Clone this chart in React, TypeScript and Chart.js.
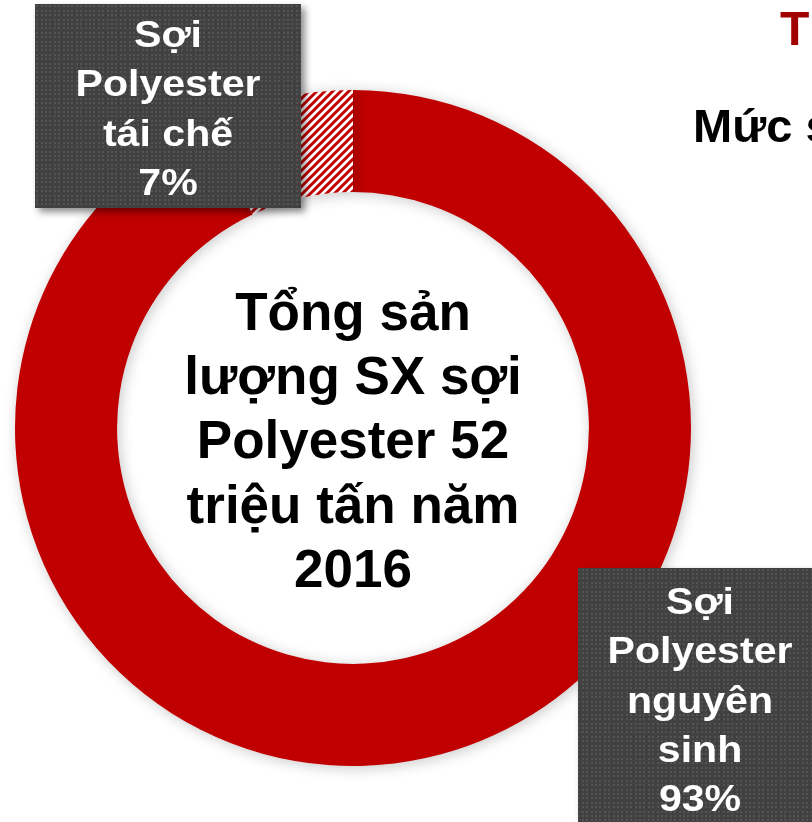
import React, { useEffect, useRef } from "react";
import { Chart, registerables } from "chart.js";

Chart.register(...registerables);

// ---- data ----
const categories = ["Sợi Polyester nguyên sinh", "Sợi Polyester tái chế"];
const shares = [93, 7];
const virginLabelLines = ["Sợi", "Polyester", "nguyên", "sinh"];
const recycledLabelLines = ["Sợi", "Polyester", "tái chế"];
const centerLines = ["Tổng sản", "lượng SX sợi", "Polyester 52", "triệu tấn năm", "2016"];
const titleText = "Thị trường sợi Polyester tái chế";
const subtitleText = "Mức sản xuất";

const RED = "#c00000";
const FONT = '"Liberation Sans", Arial, sans-serif';

function makeHatch(): CanvasPattern | string {
  const c = document.createElement("canvas");
  c.width = 8;
  c.height = 8;
  const g = c.getContext("2d");
  if (!g) return RED;
  g.fillStyle = "#ffffff";
  g.fillRect(0, 0, 8, 8);
  g.strokeStyle = RED;
  g.lineWidth = 3;
  g.beginPath();
  g.moveTo(-2, 10);
  g.lineTo(10, -2);
  g.moveTo(-2, 2);
  g.lineTo(2, -2);
  g.moveTo(6, 10);
  g.lineTo(10, 6);
  g.stroke();
  return g.createPattern(c, "repeat") || RED;
}

function makeDots(ctx: CanvasRenderingContext2D): CanvasPattern | string {
  const c = document.createElement("canvas");
  c.width = 22;
  c.height = 22;
  const g = c.getContext("2d");
  if (!g) return "#404040";
  g.fillStyle = "#414141";
  g.fillRect(0, 0, 22, 22);
  g.fillStyle = "#535353";
  const pos = [1, 5, 10, 14, 19];
  for (const x of pos) for (const y of pos) g.fillRect(x, y, 2, 2);
  return ctx.createPattern(c, "repeat") || "#404040";
}

function drawBox(
  ctx: CanvasRenderingContext2D,
  fill: CanvasPattern | string,
  x: number,
  y: number,
  w: number,
  h: number,
  lines: string[],
  cx: number,
  firstBaseline: number,
  step: number
) {
  ctx.save();
  ctx.shadowColor = "rgba(0,0,0,0.45)";
  ctx.shadowBlur = 7;
  ctx.shadowOffsetX = 4;
  ctx.shadowOffsetY = 4;
  ctx.fillStyle = fill;
  ctx.fillRect(x, y, w, h);
  ctx.restore();

  ctx.save();
  ctx.fillStyle = "#ffffff";
  ctx.font = `bold 37px ${FONT}`;
  ctx.textAlign = "center";
  ctx.textBaseline = "alphabetic";
  lines.forEach((t, i) => {
    ctx.save();
    ctx.translate(cx, firstBaseline + i * step);
    ctx.scale(1.11, 1);
    ctx.fillText(t, 0, 0);
    ctx.restore();
  });
  ctx.restore();
}

const overlayPlugin = {
  id: "overlay",
  beforeDatasetsDraw(chart: any) {
    const ctx = chart.ctx;
    ctx.save();
    ctx.shadowColor = "rgba(0,0,0,0.22)";
    ctx.shadowBlur = 14;
    ctx.shadowOffsetX = 2;
    ctx.shadowOffsetY = 2;
  },
  afterDatasetsDraw(chart: any) {
    chart.ctx.restore();
  },
  afterDraw(chart: any) {
    const ctx: CanvasRenderingContext2D = chart.ctx;
    const dots = makeDots(ctx);
    const meta = chart.getDatasetMeta(0);
    const arc = meta.data[0];
    const cx = arc.x;
    const cy = arc.y;

    // center text
    ctx.save();
    ctx.fillStyle = "#000000";
    ctx.font = `bold 53px ${FONT}`;
    ctx.textAlign = "center";
    ctx.textBaseline = "alphabetic";
    centerLines.forEach((t, i) => {
      ctx.fillText(t, cx, cy - 98 + i * 64.2);
    });
    ctx.restore();

    // title texts (cut off at right edge)
    ctx.save();
    ctx.textAlign = "left";
    ctx.textBaseline = "alphabetic";
    ctx.fillStyle = "#a00000";
    ctx.font = `bold 48px ${FONT}`;
    ctx.fillText(titleText, 780, 45);
    ctx.fillStyle = "#000000";
    ctx.font = `bold 47px ${FONT}`;
    ctx.fillText(subtitleText, 693, 142);
    ctx.restore();

    // label boxes
    const recycledLines = [...recycledLabelLines, `${shares[1]}%`];
    const virginLines = [...virginLabelLines, `${shares[0]}%`];
    drawBox(ctx, dots, 35, 4, 266, 204, recycledLines, 168, 47, 49.3);
    drawBox(ctx, dots, 578, 568, 250, 270, virginLines, 700, 614, 49.3);
  },
};

export default function App() {
  const ref = useRef<HTMLCanvasElement | null>(null);
  useEffect(() => {
    if (!ref.current) return;
    const hatch = makeHatch();
    const chart = new Chart(ref.current, {
      type: "doughnut",
      data: {
        labels: categories,
        datasets: [
          {
            data: shares,
            backgroundColor: [RED, hatch as any],
            borderWidth: 0,
            hoverOffset: 0,
          },
        ],
      },
      options: {
        responsive: false,
        maintainAspectRatio: false,
        devicePixelRatio: 1,
        animation: false,
        cutout: "69.8%",
        rotation: 0,
        layout: { padding: { left: 15, top: 90, right: 121, bottom: 56 } },
        plugins: {
          legend: { display: false },
          tooltip: { enabled: false },
          title: { display: false },
        },
        events: [],
      },
      plugins: [overlayPlugin],
    });
    return () => chart.destroy();
  }, []);
  return (
    <div style={{ position: "absolute", left: 0, top: 0, width: 812, height: 822, overflow: "hidden", background: "#fff" }}>
      <canvas ref={ref} width={812} height={822} style={{ display: "block", width: 812, height: 822 }} />
    </div>
  );
}
